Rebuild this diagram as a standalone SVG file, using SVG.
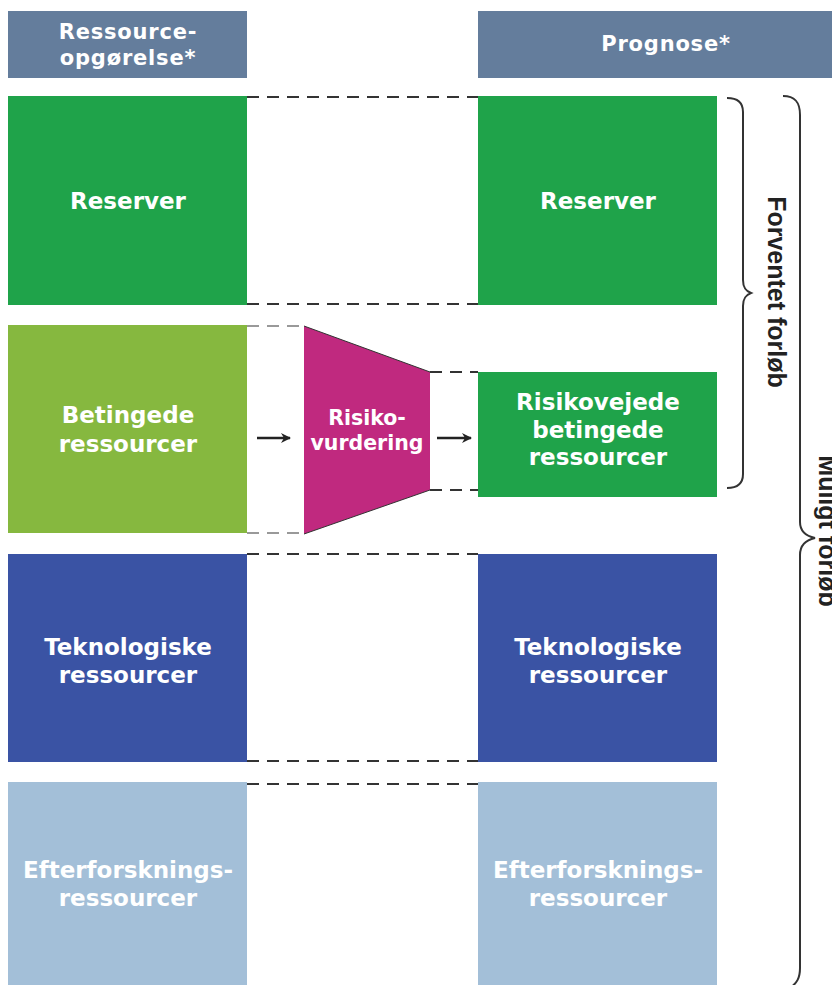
<svg xmlns="http://www.w3.org/2000/svg" width="832" height="985" viewBox="0 0 832 985">
  <style>
    .lbl { font-family: "DejaVu Sans", "Liberation Sans", sans-serif; font-weight: bold; font-size: 23px; fill: #ffffff; text-anchor: middle; }
    .hdr { font-family: "DejaVu Sans", "Liberation Sans", sans-serif; font-weight: bold; font-size: 21px; letter-spacing: 0.8px; fill: #ffffff; text-anchor: middle; }
    .risk { font-family: "DejaVu Sans", "Liberation Sans", sans-serif; font-weight: bold; font-size: 20.5px; fill: #ffffff; text-anchor: middle; }
    .side { font-family: "Liberation Sans", Arial, sans-serif; font-weight: bold; font-size: 25px; fill: #222222; text-anchor: middle; }
    .dash { stroke: #333333; stroke-width: 2; stroke-dasharray: 12 8; fill: none; }
    .dashg { stroke: #999999; stroke-width: 2; stroke-dasharray: 12 8; fill: none; }
    .brace { stroke: #333333; stroke-width: 2; fill: none; }
    .arrow { stroke: #222222; stroke-width: 2.5; fill: none; }
    .hbox { fill: #647d9c; }
    .res { fill: #1fa34a; }
    .bet { fill: #86b83f; }
    .tek { fill: #3a53a4; }
    .eft { fill: #a3bfd8; }
  </style>
  <defs>
    <marker id="ah" viewBox="0 0 10 10" refX="9" refY="5" markerWidth="4" markerHeight="4" orient="auto" markerUnits="strokeWidth">
      <path d="M0,0 L10,5 L0,10 L3,5 Z" fill="#222222"/>
    </marker>
  </defs>
  <rect width="832" height="985" fill="#ffffff"/>

  <g id="connectors">
    <line class="dash" x1="247" y1="97" x2="478" y2="97"/>
    <line class="dash" x1="247" y1="304" x2="478" y2="304"/>
    <line class="dashg" x1="247" y1="326" x2="304" y2="326"/>
    <line class="dashg" x1="247" y1="533" x2="304" y2="533"/>
    <line class="dash" x1="430" y1="372" x2="478" y2="372"/>
    <line class="dash" x1="430" y1="490" x2="478" y2="490"/>
    <line class="dash" x1="247" y1="554" x2="478" y2="554"/>
    <line class="dash" x1="247" y1="761" x2="478" y2="761"/>
    <line class="dash" x1="247" y1="784" x2="478" y2="784"/>
    <line class="arrow" x1="257" y1="438" x2="290" y2="438" marker-end="url(#ah)"/>
    <line class="arrow" x1="437" y1="438" x2="471" y2="438" marker-end="url(#ah)"/>
  </g>

  <g id="hdr-ressource">
    <rect class="hbox" x="8" y="11" width="239" height="67"/>
    <text class="hdr" x="128" y="39">Ressource-</text>
    <text class="hdr" x="128" y="65">opgørelse*</text>
  </g>
  <g id="hdr-prognose">
    <rect class="hbox" x="478" y="11" width="354" height="67"/>
    <text class="hdr" x="666" y="51">Prognose*</text>
  </g>

  <g id="reserver-left">
    <rect class="res" x="8" y="96" width="239" height="209"/>
    <text class="lbl" x="128" y="209">Reserver</text>
  </g>
  <g id="reserver-right">
    <rect class="res" x="478" y="96" width="239" height="209"/>
    <text class="lbl" x="598" y="209">Reserver</text>
  </g>

  <g id="betingede">
    <rect class="bet" x="8" y="325" width="239" height="208"/>
    <text class="lbl" x="128" y="423">Betingede</text>
    <text class="lbl" x="128" y="452">ressourcer</text>
  </g>

  <g id="risikovurdering">
    <polygon points="304,326 430,372 430,490 304,534" fill="#c0297f"/>
    <line x1="304" y1="326" x2="430" y2="372" stroke="#333333" stroke-width="1"/>
    <line x1="304" y1="534" x2="430" y2="490" stroke="#333333" stroke-width="1"/>
    <text class="risk" x="367" y="425">Risiko-</text>
    <text class="risk" x="367" y="450">vurdering</text>
  </g>

  <g id="risikovejede">
    <rect class="res" x="478" y="372" width="239" height="125"/>
    <text class="lbl" x="598" y="410">Risikovejede</text>
    <text class="lbl" x="598" y="438">betingede</text>
    <text class="lbl" x="598" y="465">ressourcer</text>
  </g>

  <g id="teknologiske-left">
    <rect class="tek" x="8" y="554" width="239" height="208"/>
    <text class="lbl" x="128" y="655">Teknologiske</text>
    <text class="lbl" x="128" y="683">ressourcer</text>
  </g>
  <g id="teknologiske-right">
    <rect class="tek" x="478" y="554" width="239" height="208"/>
    <text class="lbl" x="598" y="655">Teknologiske</text>
    <text class="lbl" x="598" y="683">ressourcer</text>
  </g>

  <g id="efterforskning-left">
    <rect class="eft" x="8" y="782" width="239" height="203"/>
    <text class="lbl" x="128" y="878">Efterforsknings-</text>
    <text class="lbl" x="128" y="906">ressourcer</text>
  </g>
  <g id="efterforskning-right">
    <rect class="eft" x="478" y="782" width="239" height="203"/>
    <text class="lbl" x="598" y="878">Efterforsknings-</text>
    <text class="lbl" x="598" y="906">ressourcer</text>
  </g>

  <g id="brace-forventet">
    <path class="brace" d="M727,98 C738,98 743,103 743,112 L743,280 C743,288 746,291 751,293 C746,295 743,298 743,306 L743,474 C743,483 738,488 727,488"/>
    <text class="side" transform="translate(768,292) rotate(90)">Forventet forløb</text>
  </g>
  <g id="brace-muligt">
    <path class="brace" d="M783,96 C795,96 800,102 800,115 L800,522 C800,532 806,536 815,538 C806,540 800,545 800,555 L800,968 C800,978 797,983 790,988"/>
    <text class="side" transform="translate(819,531) rotate(90)">Muligt forløb</text>
  </g>
</svg>
